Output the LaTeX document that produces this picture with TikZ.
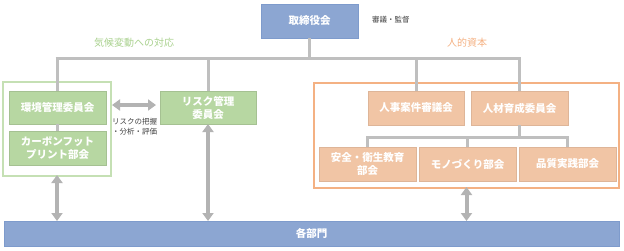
\documentclass[tikz,border=0pt]{standalone}
\usepackage{fontspec}
\setmainfont{Noto Sans CJK JP}
\usetikzlibrary{arrows.meta}
\definecolor{bluebox}{HTML}{8CA6D2}
\definecolor{blueedge}{HTML}{7E9BCC}
\definecolor{greenbox}{HTML}{B7D7A2}
\definecolor{greenframe}{HTML}{C5E0B4}
\definecolor{greentext}{HTML}{A9D18E}
\definecolor{orangebox}{HTML}{F1C5A5}
\definecolor{orangeframe}{HTML}{F4B183}
\definecolor{linegray}{HTML}{BFBFBF}
\definecolor{arrowgray}{HTML}{B3B3B3}
\definecolor{smalltext}{HTML}{404040}
\begin{document}
\begin{tikzpicture}[x=1pt,y=-1pt,
  boxbase/.style={inner sep=0pt,outer sep=0pt,align=center,font=\fontsize{10.5}{13}\selectfont\bfseries,text=white},
  bluenode/.style={boxbase,fill=bluebox,draw=blueedge,line width=0.6pt},
  greennode/.style={boxbase,fill=greenbox,draw=greenbox!90!black,line width=0.4pt},
  orangenode/.style={boxbase,fill=orangebox,draw=orangebox!92!black,line width=0.4pt},
  gframe/.style={draw=greenframe,line width=2pt,inner sep=0pt,outer sep=0pt},
  oframe/.style={draw=orangeframe,line width=1.6pt,inner sep=0pt,outer sep=0pt},
  conn/.style={draw=linegray,line width=3pt},
  dblarrow/.style={draw=arrowgray,line width=4pt,{Triangle[width=11pt,length=8pt]}-{Triangle[width=11pt,length=8pt]}},
  tiny/.style={font=\fontsize{7.5}{10}\selectfont,text=smalltext,inner sep=0pt,align=left},
  grouplabel/.style={font=\fontsize{10}{12}\selectfont,inner sep=0pt}
]
\useasboundingbox (0,0) rectangle (624,250);
% frames
\node[gframe,minimum width=108pt,minimum height=94pt] (gfr) at (57,129) {};
\node[oframe,minimum width=305pt,minimum height=105pt] (ofr) at (466.5,135.5) {};
% boxes
\node[bluenode,minimum width=97pt,minimum height=34pt] (board) at (309.5,21) {取締役会};
\node[bluenode,minimum width=615pt,minimum height=25pt] (depts) at (311.5,233.5) {各部門};
\node[greennode,minimum width=97pt,minimum height=33pt] (env) at (57.5,107.5) {環境管理委員会};
\node[greennode,minimum width=97pt,minimum height=34pt] (cfp) at (57.5,148) {カーボンフット\\プリント部会};
\node[greennode,minimum width=96pt,minimum height=33pt] (risk) at (208,107.5) {リスク管理\\委員会};
\node[orangenode,minimum width=96pt,minimum height=34pt] (jinji) at (416,108) {人事案件審議会};
\node[orangenode,minimum width=97pt,minimum height=34pt] (jinzai) at (519.5,108) {人材育成委員会};
\node[orangenode,minimum width=97pt,minimum height=34pt] (anzen) at (367.5,164) {安全・衛生教育\\部会};
\node[orangenode,minimum width=97pt,minimum height=34pt] (mono) at (467.5,164) {モノづくり部会};
\node[orangenode,minimum width=97pt,minimum height=34pt] (hin) at (567.5,164) {品質実践部会};
% labels
\node[tiny,anchor=west] (kansa) at (372,20) {審議・監督};
\node[grouplabel,text=greentext] (climate) at (134,43) {気候変動への対応};
\node[grouplabel,text=orangeframe] (human) at (467,43) {人的資本};
\node[tiny,anchor=north west] (risklbl) at (112,118) {リスクの把握\\・分析・評価};
% connectors
\coordinate (busL) at (57,58);
\coordinate (busR) at (519.5,58);
\draw[conn] ([xshift=-1.5pt]busL) -- ([xshift=1.5pt]busR);
\draw[conn] (board.south) -- (board.south |- busL);
\draw[conn] (busL) -- (busL |- env.north);
\draw[conn] (risk.north |- busL) -- (risk.north);
\draw[conn] (jinji.north |- busL) -- (jinji.north);
\draw[conn] (busR) -- (jinzai.north);
\draw[conn] (busL |- env.south) -- (busL |- cfp.north);
\coordinate (subL) at (367.5,137);
\coordinate (subR) at (567.5,137);
\draw[conn] ([xshift=-1.5pt]subL) -- ([xshift=1.5pt]subR);
\draw[conn] (jinzai.south) -- (jinzai.south |- subL);
\draw[conn] (subL) -- (anzen.north);
\draw[conn] (mono.north |- subL) -- (mono.north);
\draw[conn] (subR) -- (hin.north);
% arrows
\draw[dblarrow] ([yshift=1pt]gfr.south) -- (gfr.south |- depts.north);
\draw[dblarrow] (risk.south) -- (risk.south |- depts.north);
\draw[dblarrow] ([yshift=1pt]ofr.south) -- (ofr.south |- depts.north);
\draw[dblarrow] ([xshift=1pt]gfr.east |- 0,105) -- ([xshift=-4pt]risk.west |- 0,105);
\end{tikzpicture}
\end{document}
